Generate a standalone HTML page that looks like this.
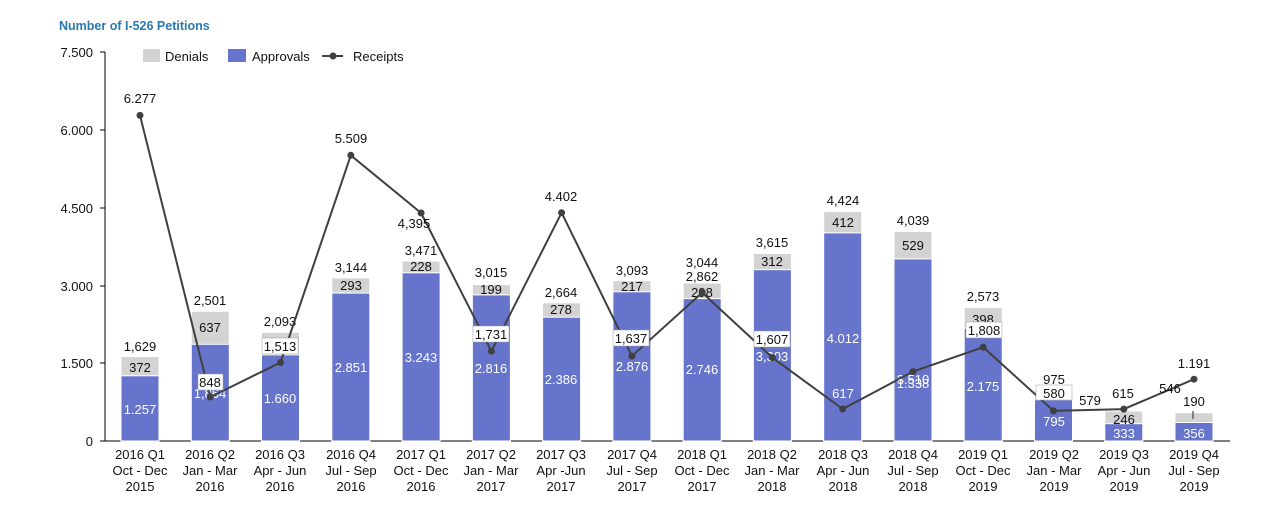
<!DOCTYPE html>
<html><head><meta charset="utf-8"><style>
body{margin:0;background:#fff;}
svg{display:block;font-family:"Liberation Sans",Arial,sans-serif;}
.t{font-size:13px;fill:#111;text-anchor:middle;}
.w{font-size:13px;fill:#fff;text-anchor:middle;}
.x{font-size:13px;fill:#111;text-anchor:middle;}
.y{font-size:13px;fill:#111;text-anchor:end;}
.b{fill:#6674cc;}
.g{fill:#d3d3d3;}
</style></head><body>
<svg width="1280" height="506" viewBox="0 0 1280 506">
<text x="59" y="30" font-size="12.5" font-weight="bold" fill="#2a7ab0">Number of I-526 Petitions</text>
<rect x="143" y="49" width="17" height="13" class="g"/><text x="165" y="61" font-size="13" fill="#111">Denials</text>
<rect x="228" y="49" width="18" height="13" class="b"/><text x="252" y="61" font-size="13" fill="#111">Approvals</text>
<line x1="322" y1="56" x2="343" y2="56" stroke="#404040" stroke-width="2"/><circle cx="333" cy="56" r="3.5" fill="#404040"/><text x="353" y="61" font-size="13" fill="#111">Receipts</text>
<line x1="105" y1="52" x2="105" y2="441" stroke="#000"/>
<line x1="105" y1="441" x2="1230" y2="441" stroke="#000"/>
<g stroke="#000"><line x1="100" y1="52" x2="105" y2="52"/><line x1="100" y1="130" x2="105" y2="130"/><line x1="100" y1="208" x2="105" y2="208"/><line x1="100" y1="286" x2="105" y2="286"/><line x1="100" y1="363" x2="105" y2="363"/><line x1="100" y1="441" x2="105" y2="441"/></g>
<text class="y" x="93" y="57">7.500</text><text class="y" x="93" y="135">6.000</text><text class="y" x="93" y="213">4.500</text><text class="y" x="93" y="291">3.000</text><text class="y" x="93" y="368">1.500</text><text class="y" x="93" y="446">0</text>
<g stroke="#fff" stroke-width="1">
<rect class="g" x="121" y="356.5" width="38" height="84.5"/><rect class="b" x="121" y="375.8" width="38" height="65.2"/>
<rect class="g" x="191.3" y="311.3" width="38" height="129.7"/><rect class="b" x="191.3" y="344.3" width="38" height="96.7"/>
<rect class="g" x="261.5" y="332.4" width="38" height="108.6"/><rect class="b" x="261.5" y="354.9" width="38" height="86.1"/>
<rect class="g" x="331.8" y="277.9" width="38" height="163.1"/><rect class="b" x="331.8" y="293.1" width="38" height="147.9"/>
<rect class="g" x="402.1" y="261" width="38" height="180"/><rect class="b" x="402.1" y="272.8" width="38" height="168.2"/>
<rect class="g" x="472.4" y="284.6" width="38" height="156.4"/><rect class="b" x="472.4" y="294.9" width="38" height="146.1"/>
<rect class="g" x="542.6" y="302.8" width="38" height="138.2"/><rect class="b" x="542.6" y="317.2" width="38" height="123.8"/>
<rect class="g" x="612.9" y="280.6" width="38" height="160.4"/><rect class="b" x="612.9" y="291.8" width="38" height="149.2"/>
<rect class="g" x="683.2" y="283.1" width="38" height="157.9"/><rect class="b" x="683.2" y="298.6" width="38" height="142.4"/>
<rect class="g" x="753.4" y="253.5" width="38" height="187.5"/><rect class="b" x="753.4" y="269.7" width="38" height="171.3"/>
<rect class="g" x="823.7" y="211.5" width="38" height="229.5"/><rect class="b" x="823.7" y="232.9" width="38" height="208.1"/>
<rect class="g" x="894" y="231.5" width="38" height="209.5"/><rect class="b" x="894" y="258.9" width="38" height="182.1"/>
<rect class="g" x="964.2" y="307.5" width="38" height="133.5"/><rect class="b" x="964.2" y="328.2" width="38" height="112.8"/>
<rect class="g" x="1034.5" y="390.4" width="38" height="50.6"/><rect class="b" x="1034.5" y="399.8" width="38" height="41.2"/>
<rect class="g" x="1104.8" y="411" width="38" height="30"/><rect class="b" x="1104.8" y="423.7" width="38" height="17.3"/>
<rect class="g" x="1175" y="412.7" width="38" height="28.3"/><rect class="b" x="1175" y="422.5" width="38" height="18.5"/>
</g>
<text class="t" x="140" y="351">1,629</text><text class="t" x="210" y="305">2,501</text><text class="t" x="280" y="326">2,093</text><text class="t" x="351" y="272">3,144</text><text class="t" x="421" y="255">3,471</text><text class="t" x="491" y="277">3,015</text><text class="t" x="561" y="297">2,664</text><text class="t" x="632" y="275">3,093</text><text class="t" x="702" y="267">3,044</text><text class="t" x="772" y="247">3,615</text><text class="t" x="843" y="205">4,424</text><text class="t" x="913" y="225">4,039</text><text class="t" x="983" y="301">2,573</text><text class="t" x="1054" y="384">975</text><text class="t" x="1090" y="405">579</text><text class="t" x="1194" y="406">190</text>
<text class="t" x="140" y="372">372</text><text class="t" x="210" y="332">637</text><text class="t" x="351" y="290">293</text><text class="t" x="421" y="271">228</text><text class="t" x="491" y="294">199</text><text class="t" x="561" y="314">278</text><text class="t" x="632" y="291">217</text><text class="t" x="702" y="297">298</text><text class="t" x="772" y="266">312</text><text class="t" x="843" y="227">412</text><text class="t" x="913" y="250">529</text><text class="t" x="983" y="324">398</text><text class="t" x="1124" y="424">246</text>
<line x1="1193" y1="411" x2="1193" y2="419" stroke="#222"/>
<text class="w" x="140" y="414">1.257</text><text class="w" x="210" y="398">1,864</text><text class="w" x="280" y="403">1.660</text><text class="w" x="351" y="372">2.851</text><text class="w" x="421" y="362">3.243</text><text class="w" x="491" y="373">2.816</text><text class="w" x="561" y="384">2.386</text><text class="w" x="632" y="371">2.876</text><text class="w" x="702" y="374">2.746</text><text class="w" x="772" y="361">3,303</text><text class="w" x="843" y="343">4.012</text><text class="w" x="913" y="384">3.510</text><text class="w" x="983" y="391">2.175</text><text class="w" x="1054" y="426">795</text><text class="w" x="1124" y="438">333</text><text class="w" x="1194" y="438">356</text>
<polyline fill="none" stroke="#404040" stroke-width="2" points="140,115.4 210.3,397 280.5,362.5 350.8,155.3 421.1,213 491.4,351.2 561.6,212.7 631.9,356.1 702.2,292.6 772.4,357.6 842.7,409 913,371.6 983.2,347.2 1053.5,410.9 1123.8,409.1 1194,379.2"/>
<g fill="#404040"><circle cx="140" cy="115.4" r="3.5"/><circle cx="210.3" cy="397" r="3.5"/><circle cx="280.5" cy="362.5" r="3.5"/><circle cx="350.8" cy="155.3" r="3.5"/><circle cx="421.1" cy="213" r="3.5"/><circle cx="491.4" cy="351.2" r="3.5"/><circle cx="561.6" cy="212.7" r="3.5"/><circle cx="631.9" cy="356.1" r="3.5"/><circle cx="702.2" cy="292.6" r="3.5"/><circle cx="772.4" cy="357.6" r="3.5"/><circle cx="842.7" cy="409" r="3.5"/><circle cx="913" cy="371.6" r="3.5"/><circle cx="983.2" cy="347.2" r="3.5"/><circle cx="1053.5" cy="410.9" r="3.5"/><circle cx="1123.8" cy="409.1" r="3.5"/><circle cx="1194" cy="379.2" r="3.5"/></g>
<g fill="#fff" stroke="#999" stroke-width="0.5">
<rect x="198" y="374" width="25" height="16"/><rect x="262" y="338" width="36" height="16"/><rect x="473" y="326" width="36" height="16"/><rect x="613" y="330" width="36" height="16"/><rect x="754" y="331" width="36" height="16"/><rect x="966" y="322" width="36" height="16"/><rect x="1036" y="385" width="36" height="15"/>
</g>
<text class="t" x="140" y="103">6.277</text><text class="t" x="210" y="387">848</text><text class="t" x="280" y="351">1,513</text><text class="t" x="351" y="143">5.509</text><text class="t" x="414" y="228">4,395</text><text class="t" x="491" y="339">1,731</text><text class="t" x="561" y="201">4.402</text><text class="t" x="631" y="343">1,637</text><text class="t" x="702" y="281">2,862</text><text class="t" x="772" y="344">1,607</text><text class="w" x="843" y="398">617</text><text class="w" x="913" y="388">1.338</text><text class="t" x="984" y="335">1,808</text><text class="t" x="1054" y="398">580</text><text class="t" x="1123" y="398">615</text><text class="t" x="1170" y="393">546</text><text class="t" x="1194" y="368">1.191</text>
<g class="x">
<text class="x" x="140" y="459">2016 Q1</text><text class="x" x="140" y="475">Oct - Dec</text><text class="x" x="140" y="491">2015</text>
<text class="x" x="210" y="459">2016 Q2</text><text class="x" x="210" y="475">Jan - Mar</text><text class="x" x="210" y="491">2016</text>
<text class="x" x="280" y="459">2016 Q3</text><text class="x" x="280" y="475">Apr - Jun</text><text class="x" x="280" y="491">2016</text>
<text class="x" x="351" y="459">2016 Q4</text><text class="x" x="351" y="475">Jul - Sep</text><text class="x" x="351" y="491">2016</text>
<text class="x" x="421" y="459">2017 Q1</text><text class="x" x="421" y="475">Oct - Dec</text><text class="x" x="421" y="491">2016</text>
<text class="x" x="491" y="459">2017 Q2</text><text class="x" x="491" y="475">Jan - Mar</text><text class="x" x="491" y="491">2017</text>
<text class="x" x="561" y="459">2017 Q3</text><text class="x" x="561" y="475">Apr -Jun</text><text class="x" x="561" y="491">2017</text>
<text class="x" x="632" y="459">2017 Q4</text><text class="x" x="632" y="475">Jul - Sep</text><text class="x" x="632" y="491">2017</text>
<text class="x" x="702" y="459">2018 Q1</text><text class="x" x="702" y="475">Oct - Dec</text><text class="x" x="702" y="491">2017</text>
<text class="x" x="772" y="459">2018 Q2</text><text class="x" x="772" y="475">Jan - Mar</text><text class="x" x="772" y="491">2018</text>
<text class="x" x="843" y="459">2018 Q3</text><text class="x" x="843" y="475">Apr - Jun</text><text class="x" x="843" y="491">2018</text>
<text class="x" x="913" y="459">2018 Q4</text><text class="x" x="913" y="475">Jul - Sep</text><text class="x" x="913" y="491">2018</text>
<text class="x" x="983" y="459">2019 Q1</text><text class="x" x="983" y="475">Oct - Dec</text><text class="x" x="983" y="491">2019</text>
<text class="x" x="1054" y="459">2019 Q2</text><text class="x" x="1054" y="475">Jan - Mar</text><text class="x" x="1054" y="491">2019</text>
<text class="x" x="1124" y="459">2019 Q3</text><text class="x" x="1124" y="475">Apr - Jun</text><text class="x" x="1124" y="491">2019</text>
<text class="x" x="1194" y="459">2019 Q4</text><text class="x" x="1194" y="475">Jul - Sep</text><text class="x" x="1194" y="491">2019</text>
</g>
</svg>
</body></html>
